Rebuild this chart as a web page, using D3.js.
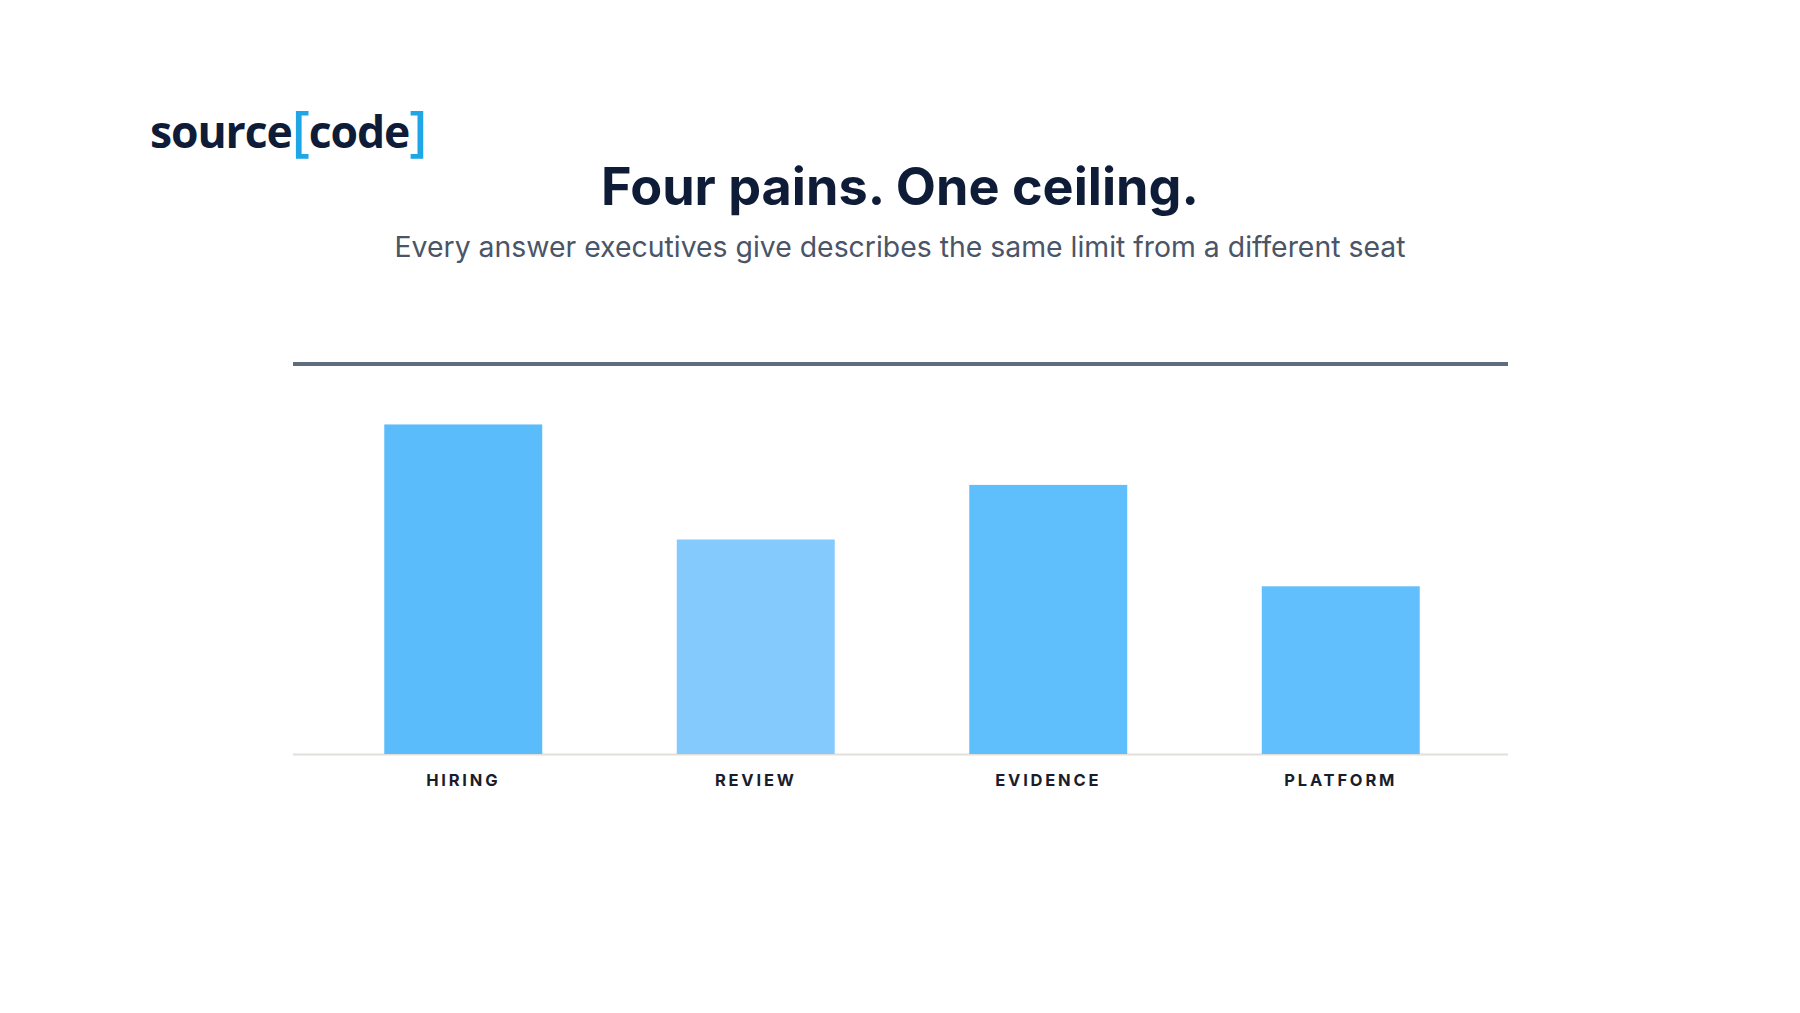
<!DOCTYPE html>
<html>
<head>
<meta charset="utf-8">
<script src="https://cdn.jsdelivr.net/npm/d3@7"></script>
<style>
  html, body { margin: 0; padding: 0; background: #ffffff; }
  svg { display: block; }
</style>
</head>
<body>
<svg id="chart" width="1800" height="1013"></svg>
<script>
const categories = ["HIRING", "REVIEW", "EVIDENCE", "PLATFORM"];
const values = [84.5, 55, 69, 43];
const ceilingValue = 100;
const barColors = ["#5bbcfb", "#85cafc", "#5fbefc", "#60bffc"];
const titleText = "Four pains. One ceiling.";
const subtitleText = "Every answer executives give describes the same limit from a different seat";

const svg = d3.select("#chart");

function fitWidth(sel, target) {
  const fs = +sel.attr("font-size");
  const w = sel.node().getComputedTextLength();
  if (w > 0) sel.attr("font-size", (fs * target / w).toFixed(2));
}

// Logo
const logo = svg.append("text")
  .attr("x", 150).attr("y", 148)
  .attr("font-family", "'Open Sans', sans-serif")
  .attr("font-weight", 700)
  .attr("font-size", 44.5)
  .attr("letter-spacing", -1.1)
  .attr("fill", "#0f1c38");
logo.append("tspan").text("source");
logo.append("tspan").attr("fill", "#1fa6e6").attr("font-weight", 600).attr("font-size", 55).attr("dy", 2).text("[");
logo.append("tspan").attr("dy", -2).text("code");
logo.append("tspan").attr("fill", "#1fa6e6").attr("font-weight", 600).attr("font-size", 55).attr("dy", 2).text("]");

// Title
const title = svg.append("text")
  .attr("x", 900).attr("y", 205)
  .attr("text-anchor", "middle")
  .attr("font-family", "Inter, sans-serif")
  .attr("font-weight", 700)
  .attr("font-size", 50)
  .attr("fill", "#0f1c38")
  .text(titleText);
fitWidth(title, 598);

const subtitle = svg.append("text")
  .attr("x", 900).attr("y", 257)
  .attr("text-anchor", "middle")
  .attr("font-family", "Inter, sans-serif")
  .attr("font-weight", 400)
  .attr("font-size", 26)
  .attr("fill", "#4a5568")
  .text(subtitleText);
fitWidth(subtitle, 1011);

// Chart
const plotLeft = 293, plotRight = 1508;
const baseY = 754, ceilY = 364;

const x = d3.scaleBand()
  .domain(categories)
  .range([317, 1487])
  .paddingInner(0.46)
  .paddingOuter(0.23);

const y = d3.scaleLinear()
  .domain([0, ceilingValue])
  .range([baseY, ceilY]);

// baseline
svg.append("line")
  .attr("x1", plotLeft).attr("x2", plotRight)
  .attr("y1", y(0) + 0.5).attr("y2", y(0) + 0.5)
  .attr("stroke", "#e2dfda").attr("stroke-width", 2);

// bars
svg.selectAll("rect.bar")
  .data(categories)
  .join("rect")
  .attr("class", "bar")
  .attr("x", d => x(d))
  .attr("width", x.bandwidth())
  .attr("y", (d, i) => y(values[i]))
  .attr("height", (d, i) => y(0) - y(values[i]))
  .attr("fill", (d, i) => barColors[i]);

// ceiling line
svg.append("line")
  .attr("x1", plotLeft).attr("x2", plotRight)
  .attr("y1", y(ceilingValue)).attr("y2", y(ceilingValue))
  .attr("stroke", "#5f6b7e").attr("stroke-width", 4);

// axis labels
const axis = d3.axisBottom(x).tickSize(0).tickPadding(0);
const gAxis = svg.append("g")
  .attr("transform", `translate(0, ${baseY + 32})`)
  .call(axis);
gAxis.select(".domain").remove();
gAxis.selectAll("text")
  .attr("dy", 0)
  .attr("font-family", "Inter, sans-serif")
  .attr("font-weight", 700)
  .attr("font-size", 16.5)
  .attr("letter-spacing", 2.8)
  .attr("fill", "#1a1d2b");
</script>
</body>
</html>
